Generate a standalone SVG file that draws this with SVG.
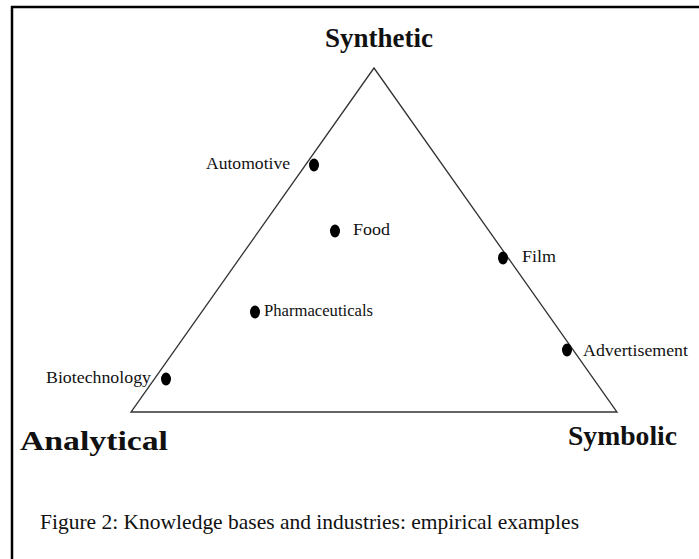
<svg xmlns="http://www.w3.org/2000/svg" width="699" height="559" viewBox="0 0 699 559">
<style>
.lbl{font-family:"Liberation Serif","Times New Roman",serif;font-size:17px;fill:#111}
.corner{font-family:"Liberation Serif","Times New Roman",serif;font-size:27px;font-weight:bold;fill:#111}
.cap{font-family:"Liberation Serif","Times New Roman",serif;font-size:21px;fill:#111}
.dot{fill:#000}
</style>
<rect width="699" height="559" fill="#fff"/>
<g id="frame" stroke="#000" stroke-width="2.5" fill="none">
<line x1="11" y1="7" x2="699" y2="7"/>
<line x1="12" y1="6" x2="12" y2="559"/>
</g>
<g id="connectors">
<polygon points="374,68 131,412 617,412" fill="none" stroke="#333" stroke-width="1.3"/>
</g>
<g id="synthetic"><text class="corner" x="325" y="47" textLength="108" lengthAdjust="spacingAndGlyphs">Synthetic</text></g>
<g id="analytical"><text class="corner" x="20" y="450" textLength="148" lengthAdjust="spacingAndGlyphs">Analytical</text></g>
<g id="symbolic"><text class="corner" x="568" y="445" textLength="109" lengthAdjust="spacingAndGlyphs">Symbolic</text></g>
<g id="automotive"><ellipse class="dot" cx="314" cy="165" rx="5" ry="6.5"/><text class="lbl" x="206" y="169" textLength="84" lengthAdjust="spacingAndGlyphs">Automotive</text></g>
<g id="food"><ellipse class="dot" cx="335" cy="231" rx="5" ry="6.5"/><text class="lbl" x="353" y="235" textLength="37" lengthAdjust="spacingAndGlyphs">Food</text></g>
<g id="film"><ellipse class="dot" cx="503" cy="258" rx="5" ry="6.5"/><text class="lbl" x="522" y="262" textLength="34" lengthAdjust="spacingAndGlyphs">Film</text></g>
<g id="pharmaceuticals"><ellipse class="dot" cx="255" cy="312" rx="5" ry="6.5"/><text class="lbl" x="264" y="316" textLength="109" lengthAdjust="spacingAndGlyphs">Pharmaceuticals</text></g>
<g id="advertisement"><ellipse class="dot" cx="567" cy="350" rx="5" ry="6.5"/><text class="lbl" x="583" y="356" textLength="105" lengthAdjust="spacingAndGlyphs">Advertisement</text></g>
<g id="biotechnology"><ellipse class="dot" cx="166" cy="379" rx="5" ry="6.5"/><text class="lbl" x="46" y="383" textLength="105" lengthAdjust="spacingAndGlyphs">Biotechnology</text></g>
<g id="caption"><text class="cap" x="40" y="529" textLength="539" lengthAdjust="spacingAndGlyphs">Figure 2: Knowledge bases and industries: empirical examples</text></g>
</svg>
